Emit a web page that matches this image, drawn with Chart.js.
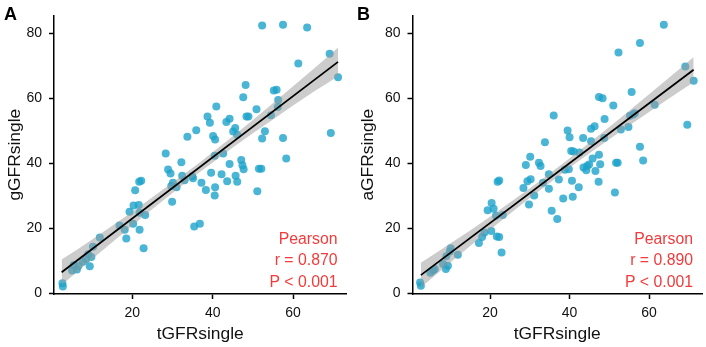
<!DOCTYPE html>
<html lang="en">
<head>
  <meta charset="UTF-8">
  <title>tGFRsingle vs gGFRsingle / aGFRsingle</title>
  <script src="https://cdn.jsdelivr.net/npm/chart.js"></script>
  <style>
    body { margin: 0; background: #fff; }
    #wrap { position: relative; width: 706px; height: 347px; }
    canvas { position: absolute; top: 0; }
  </style>
</head>
<body>
<div id="wrap">
  <canvas id="chartA" width="353" height="347" style="left:0"></canvas>
  <canvas id="chartB" width="353" height="347" style="left:353px"></canvas>
</div>

<script>
  // axis ticks
  const xTicks = [20, 40, 60];
  const yTicks = [0, 20, 40, 60, 80];

  // panel A: tGFRsingle (x) vs gGFRsingle (y)
  const tA = [52.3, 57.5, 63.5, 69.1, 71.2, 61.3, 48.2, 55.2, 55.9, 47.6, 56.3, 56.2, 40.9, 50.9, 54.5, 38.7,
    48.4, 48.9, 44.2, 43.4, 39.3, 35.9, 45.6, 45.1, 53.0, 46.1, 40.1, 33.7, 40.6, 52.3, 57.5, 69.4,
    28.3, 42.6, 40.5, 58.3, 47.1, 32.2, 44.2, 47.4, 47.7, 51.5, 52.1, 28.9, 29.5, 39.6, 42.2, 32.4,
    34.9, 35.1, 45.7, 33.0, 43.6, 46.1, 30.1, 29.7, 31.0, 37.2, 40.6, 38.3, 51.1, 40.5, 29.9, 21.7,
    22.2, 20.7, 20.3, 21.6, 19.3, 21.8, 23.2, 20.2, 16.8, 18.1, 21.8, 35.4, 36.8, 18.5, 11.9, 22.8,
    10.2, 9.0, 9.8, 8.5, 7.7, 6.6, 5.4, 5.0, 6.2, 9.4, 2.6, 2.7];
  const gA = [82.4, 82.6, 81.8, 73.7, 66.5, 70.7, 64.1, 62.4, 62.6, 60.3, 59.5, 57.3, 57.5, 56.6, 54.8, 54.4,
    54.4, 54.4, 53.7, 52.7, 52.5, 50.2, 50.9, 49.8, 49.9, 48.8, 48.4, 48.2, 47.3, 47.6, 47.8, 49.3,
    43.0, 43.0, 42.3, 41.5, 41.0, 40.3, 39.8, 39.4, 38.2, 38.3, 38.3, 38.1, 36.9, 37.1, 36.6, 36.2,
    36.0, 35.4, 36.2, 34.8, 34.5, 34.3, 34.0, 33.0, 32.6, 34.0, 32.6, 31.8, 31.4, 30.1, 28.2, 34.3,
    34.6, 31.7, 27.0, 27.2, 25.1, 24.8, 24.1, 21.4, 20.9, 19.6, 19.6, 20.6, 21.4, 16.9, 17.2, 13.9,
    14.3, 12.0, 11.2, 10.5, 9.7, 8.5, 8.7, 7.0, 7.3, 8.3, 3.1, 2.1];
  const fitAx = [2.4, 71.2];
  const fitAy = [6.5, 71.2];
  const bandAx = [2.4, 10, 20, 30, 37, 45, 55, 65, 71.2];
  const bandALow = [2.6, 10.6, 20.9, 30.9, 37.5, 44.9, 53.5, 61.9, 66.8];
  const bandAHigh = [10.4, 16.6, 25.1, 34.1, 40.5, 48.3, 58.5, 68.9, 75.6];
  const statsA = ['Pearson', 'r = 0.870', 'P < 0.001'];

  // panel B: tGFRsingle (x) vs aGFRsingle (y)
  const tB = [63.7, 57.7, 52.3, 69.1, 71.2, 55.6, 61.4, 47.4, 48.3, 51.0, 36.0, 48.8, 56.0, 56.4, 55.2, 69.6,
    39.5, 46.3, 45.4, 54.8, 52.9, 40.0, 43.4, 48.7, 45.4, 33.8, 57.7, 40.4, 41.0, 42.5, 47.4, 30.1,
    45.8, 58.5, 51.7, 52.1, 47.7, 32.3, 32.7, 29.0, 44.4, 44.9, 43.5, 39.8, 38.8, 44.2, 46.5, 34.8,
    33.3, 30.2, 29.4, 37.3, 40.6, 47.3, 28.4, 34.8, 42.3, 31.1, 51.4, 40.8, 38.4, 29.8, 35.5, 36.9,
    21.9, 22.3, 20.4, 20.9, 19.4, 21.5, 23.2, 20.3, 18.6, 18.0, 21.7, 22.3, 17.2, 22.9, 11.9, 10.1,
    9.9, 9.0, 8.2, 9.4, 8.9, 6.1, 5.0, 5.7, 2.4, 2.6];
  const aB = [82.6, 77.0, 74.1, 69.8, 65.4, 61.9, 58.0, 60.4, 60.0, 57.8, 54.7, 53.6, 55.0, 55.4, 54.6, 51.9,
    50.1, 51.4, 50.6, 51.2, 50.4, 48.0, 47.8, 47.8, 46.8, 46.5, 45.1, 43.8, 43.6, 43.3, 42.6, 42.0,
    41.5, 40.9, 40.2, 40.2, 39.7, 40.2, 39.2, 39.5, 39.2, 39.6, 38.7, 38.2, 38.0, 37.9, 37.6, 36.6,
    34.0, 35.1, 34.5, 35.0, 34.6, 34.3, 32.4, 32.2, 32.6, 30.1, 31.0, 29.7, 29.2, 27.3, 25.4, 22.9,
    34.3, 34.7, 27.8, 26.0, 25.6, 23.9, 24.1, 19.2, 18.7, 17.3, 17.5, 17.3, 15.5, 12.6, 11.9, 13.9,
    12.9, 11.4, 9.0, 8.5, 7.5, 7.5, 6.3, 7.0, 3.3, 2.3];
  const fitBx = [2.6, 71.2];
  const fitBy = [5.6, 68.8];
  const bandBx = [2.6, 10, 20, 30, 37, 45, 55, 65, 71.2];
  const bandBLow = [1.8, 9.5, 19.6, 29.3, 35.9, 43.1, 51.6, 59.9, 64.9];
  const bandBHigh = [9.4, 15.3, 23.6, 32.3, 38.7, 46.3, 56.2, 66.3, 72.7];
  const statsB = ['Pearson', 'r = 0.890', 'P < 0.001'];

  const FONT = '"Liberation Sans", Arial, Helvetica, sans-serif';
  const pts = (xs, ys) => xs.map((x, i) => ({ x: x, y: ys[i] }));

  // red stats text + panel letter
  const annot = {
    id: 'annot',
    afterDraw(chart, args, o) {
      const { ctx, chartArea } = chart;
      ctx.save();
      ctx.fillStyle = '#F23B3B';
      ctx.font = '15.8px ' + FONT;
      ctx.textAlign = 'right';
      ctx.textBaseline = 'alphabetic';
      o.lines.forEach((t, i) => ctx.fillText(t, chartArea.right - 9, chartArea.bottom - 50 + i * 21.3));
      ctx.fillStyle = '#000';
      ctx.font = 'bold 18px ' + FONT;
      ctx.textAlign = 'left';
      ctx.fillText(o.label, 4, 20);
      ctx.restore();
    }
  };

  function makePanel(id, p) {
    new Chart(document.getElementById(id), {
      type: 'scatter',
      data: {
        datasets: [
          { // regression line
            data: pts(p.fitX, p.fitY), showLine: true, borderColor: '#000', borderWidth: 1.8,
            pointRadius: 0, order: 0
          },
          { // lower CI
            data: pts(p.bandX, p.low), showLine: true, borderWidth: 0, borderColor: 'rgba(0,0,0,0)',
            pointRadius: 0, cubicInterpolationMode: 'monotone', order: 1
          },
          { // upper CI, filled down to lower
            data: pts(p.bandX, p.high), showLine: true, borderWidth: 0, borderColor: 'rgba(0,0,0,0)',
            pointRadius: 0, cubicInterpolationMode: 'monotone', fill: '-1',
            backgroundColor: 'rgba(153,153,153,0.5)', order: 1
          },
          { // observations
            data: pts(p.xs, p.ys), pointRadius: 4, pointBorderWidth: 0,
            backgroundColor: 'rgba(29,162,202,0.8)', order: 2
          }
        ]
      },
      options: {
        responsive: false,
        animation: false,
        events: [],
        layout: { padding: { left: 0, top: 0, right: p.padRight, bottom: 0 } },
        plugins: {
          legend: { display: false },
          tooltip: { enabled: false },
          annot: { lines: p.stats, label: p.label }
        },
        scales: {
          x: {
            type: 'linear', min: 0.5, max: 73.3,
            afterBuildTicks: s => { s.ticks = xTicks.map(v => ({ value: v })); },
            afterFit: s => { s.height = 53; },
            grid: { drawOnChartArea: false, drawTicks: true, tickLength: 5, tickColor: '#000', tickWidth: 1.5 },
            border: { display: true, color: '#000', width: 1.5 },
            ticks: { color: '#111', padding: 6, font: { family: FONT, size: 14 } },
            title: { display: true, text: 'tGFRsingle', color: '#111', padding: { top: 0, bottom: 2 },
              font: { family: FONT, size: 17.4 } }
          },
          y: {
            type: 'linear', min: -0.2, max: 85.5,
            afterBuildTicks: s => { s.ticks = yTicks.map(v => ({ value: v })); },
            afterFit: s => { s.width = p.left; },
            grid: { drawOnChartArea: false, drawTicks: true, tickLength: 5, tickColor: '#000', tickWidth: 1.5 },
            border: { display: true, color: '#000', width: 1.5 },
            ticks: { color: '#111', padding: 7, font: { family: FONT, size: 14 } },
            title: { display: true, text: p.yTitle, color: '#111', padding: { top: 5, bottom: 0 },
              font: { family: FONT, size: 17.4 } }
          }
        }
      },
      plugins: [annot]
    });
  }

  makePanel('chartA', {
    xs: tA, ys: gA, fitX: fitAx, fitY: fitAy, bandX: bandAx, low: bandALow, high: bandAHigh,
    stats: statsA, label: 'A', yTitle: 'gGFRsingle', left: 54, padRight: 6.5
  });
  makePanel('chartB', {
    xs: tB, ys: aB, fitX: fitBx, fitY: fitBy, bandX: bandBx, low: bandBLow, high: bandBHigh,
    stats: statsB, label: 'B', yTitle: 'aGFRsingle', left: 59.5, padRight: 1.5
  });
</script>
</body>
</html>
